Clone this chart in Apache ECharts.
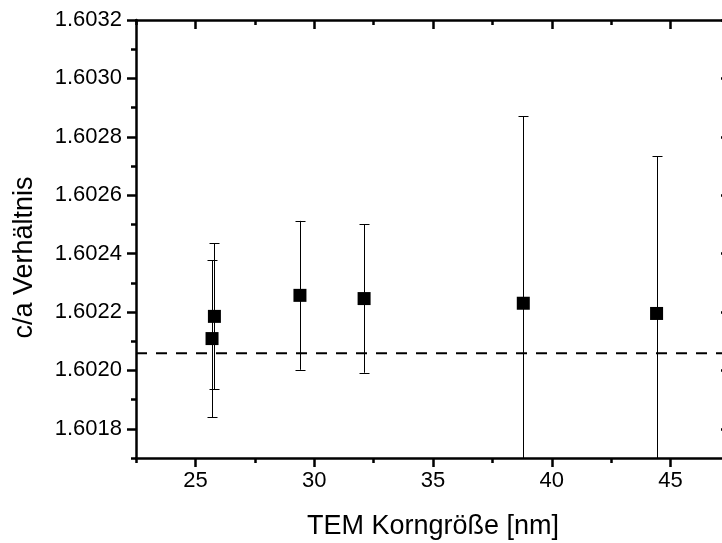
<!DOCTYPE html>
<html>
<head>
<meta charset="utf-8">
<script src="https://cdn.jsdelivr.net/npm/echarts@6/dist/echarts.min.js"></script>
<style>
html,body{margin:0;padding:0;background:#fff;}
#chart{width:722px;height:543px;}
</style>
</head>
<body>
<div id="chart"></div>
<script>
// ---- data ----
const grainSize = [25.70, 25.80, 29.40, 32.10, 38.80, 44.41];
const caRatio   = [1.602109, 1.602185, 1.602257, 1.602246, 1.602230, 1.602195];
const caError   = [0.000269, 0.000250, 0.000255, 0.000254, 0.000640, 0.000538];
const referenceRatio = 1.602059;
const xMajorTicks = [25, 30, 35, 40, 45];
const xMinorTicks = [22.5, 27.5, 32.5, 37.5, 42.5, 47.5];
const yMajorTicks = [1.6018, 1.6020, 1.6022, 1.6024, 1.6026, 1.6028, 1.6030, 1.6032];
const yMinorTicks = [1.6017, 1.6019, 1.6021, 1.6023, 1.6025, 1.6027, 1.6029, 1.6031];
const xTitle = 'TEM Korngröße [nm]';
const yTitle = 'c/a Verhältnis';

const FONT = '"Liberation Sans", Arial, sans-serif';
const X_MIN = 22.5, X_MAX = 47.5, Y_MIN = 1.6017, Y_MAX = 1.6032;

const points = grainSize.map((x, i) => [x, caRatio[i]]);
const bars = grainSize.map((x, i) => [x, caRatio[i] - caError[i], caRatio[i] + caError[i]]);
const refLinePoints = [[X_MIN, referenceRatio], [X_MAX, referenceRatio]];

function xAx(pos, ticks, len, showLine, labels, extra) {
  return Object.assign({
    type: 'value', position: pos, min: X_MIN, max: X_MAX,
    axisLine: {show: showLine, onZero: false, lineStyle: {color: '#000', width: 2.5}},
    axisTick: {show: true, inside: pos === 'top', length: len, customValues: ticks,
               lineStyle: {color: '#000', width: 2.5}},
    axisLabel: labels ? {show: true, customValues: ticks, color: '#000', fontSize: 22,
               fontFamily: FONT, margin: 12, formatter: v => String(Math.round(v))} : {show: false},
    splitLine: {show: false}
  }, extra || {});
}
function yAx(pos, ticks, len, showLine, labels, extra) {
  return Object.assign({
    type: 'value', position: pos, min: Y_MIN, max: Y_MAX,
    axisLine: {show: showLine, onZero: false, lineStyle: {color: '#000', width: 2.5}},
    axisTick: {show: true, inside: pos === 'right', length: len, customValues: ticks,
               lineStyle: {color: '#000', width: 2.5}},
    axisLabel: labels ? {show: true, customValues: ticks, color: '#000', fontSize: 22,
               fontFamily: FONT, margin: 14, formatter: v => v.toFixed(4)} : {show: false},
    splitLine: {show: false}
  }, extra || {});
}

const chart = echarts.init(document.getElementById('chart'), null, {renderer: 'canvas'});
chart.setOption({
  animation: false,
  backgroundColor: '#fff',
  grid: {left: 136, right: -8, top: 20, bottom: 85, containLabel: false, outerBoundsMode: 'none'},
  xAxis: [
    xAx('bottom', xMajorTicks, 9, true, true, {
      name: xTitle, nameLocation: 'middle', nameGap: 55,
      nameTextStyle: {color: '#000', fontSize: 27, fontFamily: FONT}
    }),
    xAx('bottom', xMinorTicks, 5, false, false),
    xAx('top', xMajorTicks, 9, true, false),
    xAx('top', xMinorTicks, 5, false, false)
  ],
  yAxis: [
    yAx('left', yMajorTicks, 9, true, true, {
      name: yTitle, nameLocation: 'middle', nameGap: 98,
      nameTextStyle: {color: '#000', fontSize: 27, fontFamily: FONT, padding: [0, 37, 0, 0]}
    }),
    yAx('left', yMinorTicks, 5, false, false),
    yAx('right', yMajorTicks, 9, true, false),
    yAx('right', yMinorTicks, 5, false, false)
  ],
  series: [
    {
      type: 'line',
      xAxisIndex: 0, yAxisIndex: 0,
      data: refLinePoints,
      symbol: 'none',
      silent: true,
      z: 1,
      lineStyle: {color: '#000', width: 2, type: [11, 9]}
    },
    {
      type: 'custom',
      xAxisIndex: 0, yAxisIndex: 0,
      data: bars,
      z: 2,
      silent: true,
      renderItem: function (params, api) {
        const cs = params.coordSys;
        const x = api.value(0), lo = api.value(1), hi = api.value(2);
        const pHi = api.coord([x, hi]);
        const pLo = api.coord([x, lo]);
        const px = Math.round(pHi[0]) + 0.5;
        const top = Math.max(pHi[1], cs.y);
        const bot = Math.min(pLo[1], cs.y + cs.height);
        const style = {stroke: '#000', lineWidth: 1, fill: null};
        const children = [{type: 'line', shape: {x1: px, y1: top, x2: px, y2: bot}, style: style}];
        if (pHi[1] >= cs.y) {
          const yy = Math.round(pHi[1]) + 0.5;
          children.push({type: 'line', shape: {x1: px - 5, y1: yy, x2: px + 5, y2: yy}, style: style});
        }
        if (pLo[1] <= cs.y + cs.height) {
          const yy = Math.round(pLo[1]) + 0.5;
          children.push({type: 'line', shape: {x1: px - 5, y1: yy, x2: px + 5, y2: yy}, style: style});
        }
        return {type: 'group', children: children};
      }
    },
    {
      type: 'scatter',
      xAxisIndex: 0, yAxisIndex: 0,
      data: points,
      symbol: 'rect',
      symbolSize: 13,
      itemStyle: {color: '#000', opacity: 1},
      z: 5
    }
  ]
});
</script>
</body>
</html>
